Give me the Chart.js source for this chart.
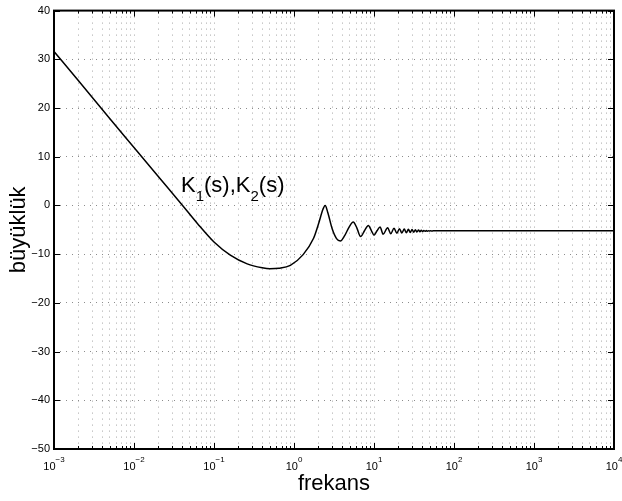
<!DOCTYPE html>
<html>
<head>
<meta charset="utf-8">
<script src="https://cdn.jsdelivr.net/npm/chart.js@4"></script>
<style>
  html, body { margin: 0; padding: 0; background: #fff; }
  #wrap { width: 622px; height: 501px; }
</style>
</head>
<body>
<div id="wrap"><canvas id="bode"></canvas></div>
<script>
// frekans (log) ve büyüklük (dB) değerleri
const freq = [0.001, 0.002, 0.005, 0.01, 0.02, 0.04, 0.062, 0.1, 0.16, 0.26, 0.4, 0.5, 0.65, 0.9,
  1.3, 1.75, 2.05, 2.3, 2.45, 2.65, 3.0, 3.4, 3.8, 4.3, 4.9, 5.5, 6.1, 6.8, 7.6, 8.5, 9.3, 10.0,
  10.9, 11.9, 13.0, 14.8, 16.2, 17.8, 19.3, 20.8, 22.3, 23.9, 25.4, 26.9, 28.4, 29.9, 31.4, 32.9,
  34.4, 36, 37.5, 39, 40.5, 42, 43.5, 45, 46.5, 48, 49.5, 51, 52.5, 55, 60, 100, 1000, 10000];
const mag = [31.6, 25.7, 17.8, 11.9, 6.0, 0.1, -3.7, -7.5, -10.2, -12.0, -12.8, -13.0, -12.9, -12.3,
  -10.1, -6.8, -3.5, -0.8, 0.0, -1.5, -4.8, -6.8, -7.3, -6.2, -4.4, -3.4, -4.6, -6.4, -5.2, -4.1, -5.2, -6.1,
  -5.2, -4.4, -5.9, -4.6, -5.8, -4.7, -5.7, -4.8, -5.65, -4.85, -5.6, -4.9, -5.55, -4.95, -5.5, -5.0,
  -5.45, -5.05, -5.4, -5.1, -5.35, -5.12, -5.32, -5.15, -5.3, -5.17, -5.27, -5.18, -5.25, -5.2, -5.2,
  -5.2, -5.2, -5.2];

// eksen etiketleri
const xExponents = [-3, -2, -1, 0, 1, 2, 3, 4];
const yTicks = [-50, -40, -30, -20, -10, 0, 10, 20, 30, 40];
const curveText = [['K', false], ['1', true], ['(s),K', false], ['2', true], ['(s)', false]];
const curveTextAt = { x: 0.0387, y: 2.7 };

const FONT = '"Liberation Sans", Arial, Helvetica, sans-serif';

// her dekad için 1..9 tik konumları
const xTickVals = [];
xExponents.forEach((e, i) => {
  for (let m = 1; m <= 9; m++) {
    if (i === xExponents.length - 1 && m > 1) break;
    xTickVals.push(m * Math.pow(10, e));
  }
});
const isDecade = v => Math.abs(Math.log10(v) - Math.round(Math.log10(v))) < 1e-9;

const matlabBox = {
  id: 'matlabBox',
  afterDraw(chart) {
    const { ctx, chartArea: a, scales: { x, y } } = chart;
    ctx.save();
    ctx.strokeStyle = '#000';
    ctx.lineWidth = 1;
    // içe dönük tikler
    ctx.beginPath();
    xTickVals.forEach(v => {
      const px = Math.round(x.getPixelForValue(v)) + 0.5;
      const len = isDecade(v) ? 6 : 3;
      ctx.moveTo(px, a.bottom); ctx.lineTo(px, a.bottom - len);
      ctx.moveTo(px, a.top); ctx.lineTo(px, a.top + len);
    });
    yTicks.forEach(v => {
      const py = Math.round(y.getPixelForValue(v)) + 0.5;
      ctx.moveTo(a.left, py); ctx.lineTo(a.left + 6, py);
      ctx.moveTo(a.right, py); ctx.lineTo(a.right - 6, py);
    });
    ctx.stroke();
    // çerçeve
    ctx.lineWidth = 2;
    ctx.strokeRect(a.left, a.top, a.right - a.left, a.bottom - a.top);

    // x tik etiketleri: 10^n
    ctx.fillStyle = '#000';
    ctx.textBaseline = 'alphabetic';
    ctx.textAlign = 'left';
    xExponents.forEach(e => {
      const px = x.getPixelForValue(Math.pow(10, e));
      const exp = e < 0 ? '\u2212' + Math.abs(e) : String(e);
      ctx.font = '11px ' + FONT;
      const wb = ctx.measureText('10').width;
      ctx.font = '8px ' + FONT;
      const we = ctx.measureText(exp).width;
      const x0 = px - (wb + we) / 2;
      ctx.font = '11px ' + FONT;
      ctx.fillText('10', x0, a.bottom + 21);
      ctx.font = '8px ' + FONT;
      ctx.fillText(exp, x0 + wb, a.bottom + 13);
    });

    // eğri etiketi
    let tx = x.getPixelForValue(curveTextAt.x);
    const ty = y.getPixelForValue(curveTextAt.y);
    curveText.forEach(([s, sub]) => {
      ctx.font = (sub ? '15px ' : '22px ') + FONT;
      ctx.fillText(s, tx, sub ? ty + 9 : ty);
      tx += ctx.measureText(s).width;
    });
    ctx.restore();
  }
};

new Chart(document.getElementById('bode'), {
  type: 'line',
  data: {
    datasets: [{
      data: freq.map((f, i) => ({ x: f, y: mag[i] })),
      borderColor: '#000',
      borderWidth: 1.5,
      pointRadius: 0,
      cubicInterpolationMode: 'monotone',
      fill: false
    }]
  },
  options: {
    responsive: true,
    maintainAspectRatio: false,
    animation: false,
    layout: { padding: { left: 0, right: 8, top: 7, bottom: 0 } },
    plugins: { legend: { display: false }, tooltip: { enabled: false } },
    scales: {
      x: {
        type: 'logarithmic',
        min: 1e-3,
        max: 1e4,
        afterBuildTicks: s => { s.ticks = xTickVals.map(v => ({ value: v })); },
        afterFit: s => { s.height = 52; },
        ticks: { display: false, autoSkip: false },
        grid: { color: '#a6a6a6', lineWidth: 1, drawTicks: false },
        border: { display: false, dash: [1, 5] },
        title: {
          display: true,
          text: 'frekans',
          color: '#000',
          font: { family: FONT, size: 22 },
          padding: { top: 0, bottom: 4 }
        }
      },
      y: {
        min: -50,
        max: 40,
        afterBuildTicks: s => { s.ticks = yTicks.map(v => ({ value: v })); },
        afterFit: s => { s.width = 54; },
        ticks: {
          color: '#000',
          padding: 4,
          font: { family: FONT, size: 11 },
          callback: v => String(v).replace('-', '\u2212')
        },
        grid: { color: '#8c8c8c', lineWidth: 1, drawTicks: false },
        border: { display: false, dash: [1, 5] },
        title: {
          display: true,
          text: 'büyüklük',
          color: '#000',
          font: { family: FONT, size: 22 },
          padding: { top: 6, bottom: 0 }
        }
      }
    }
  },
  plugins: [matlabBox]
});
</script>
</body>
</html>
